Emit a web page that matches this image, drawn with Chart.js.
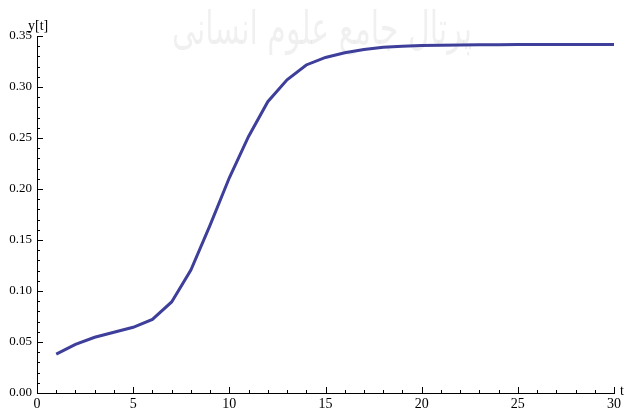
<!DOCTYPE html>
<html>
<head>
<meta charset="utf-8">
<script src="https://cdn.jsdelivr.net/npm/chart.js@4/dist/chart.umd.min.js"></script>
<style>
  html, body { margin: 0; padding: 0; background: #fff; }
  #wrap { width: 627px; height: 411px; position: relative; }
</style>
</head>
<body>
<div id="wrap"><canvas id="plot"></canvas></div>
<script>
// values
let tValues = [1,2,3,4,5,6,7,8,9,10,11,12,13,14,15,16,17,18,19,20,21,22,23,24,25,26,27,28,29,30];
let yValues = [0.0382,0.0477,0.0546,0.0595,0.0644,0.0722,0.0893,0.1206,0.1645,0.2110,0.2515,0.2856,0.3070,0.3216,0.3290,0.3336,0.3368,0.3389,0.3400,0.3406,0.3410,0.3412,0.3414,0.3415,0.3416,0.3416,0.3417,0.3417,0.3417,0.3417];
let xTicks = [0,5,10,15,20,25,30];
let yTicks = [0,0.05,0.10,0.15,0.20,0.25,0.30,0.35];

let serif = "'Liberation Serif', serif";
Chart.defaults.font.family = serif;
Chart.defaults.font.size = 13;
Chart.defaults.color = "#000";

// inward ticks like the original plot, plus axis names and watermark
let axisDecor = {
  id: "axisDecor",
  beforeDraw: function(chart){
    let c = chart.ctx;
    c.save();
    c.font = "46px DejaVu Sans";
    c.fillStyle = "rgba(0,0,0,0.06)";
    c.textAlign = "center";
    c.textBaseline = "middle";
    c.direction = "rtl";
    c.fillText("پرتال جامع علوم انسانی", 322, 32, 300);
    c.restore();
  },
  afterDraw: function(chart){
    let c = chart.ctx;
    let xs = chart.scales.x, ys = chart.scales.y;
    let x0 = xs.getPixelForValue(0), y0 = ys.getPixelForValue(0);
    c.save();
    c.strokeStyle = "#000";
    c.lineWidth = 1;
    c.beginPath();
    for(let i=0;i<=30;i++){
      let px = Math.round(xs.getPixelForValue(i)) + 0.5;
      let len = (i % 5 == 0) ? 6 : 3;
      c.moveTo(px, y0);
      c.lineTo(px, y0 - len);
    }
    for(let j=0;j<=35;j++){
      let py = Math.round(ys.getPixelForValue(j/100)) + 0.5;
      let len = (j % 5 == 0) ? 6 : 3;
      c.moveTo(x0, py);
      c.lineTo(x0 + len, py);
    }
    c.stroke();
    c.fillStyle = "#000";
    c.font = "14px " + serif;
    c.textBaseline = "alphabetic";
    c.textAlign = "left";
    c.fillText("y[t]", 28, 30);
    c.fillText("t", 620, 395);
    c.restore();
  }
};

let ctx = document.getElementById("plot");
let chart = new Chart(ctx, {
  type: "line",
  data: {
    labels: tValues,
    datasets: [{
      data: tValues.map((t, i) => ({x: t, y: yValues[i]})),
      borderColor: "rgb(62,62,155)",
      borderWidth: 3,
      fill: false,
      tension: 0,
      pointRadius: 0
    }]
  },
  options: {
    responsive: true,
    maintainAspectRatio: false,
    animation: false,
    layout: { padding: { top: 36, right: 13, left: 0, bottom: 0 } },
    plugins: { legend: { display: false }, tooltip: { enabled: false } },
    scales: {
      x: {
        type: "linear",
        min: 0, max: 30,
        afterBuildTicks: function(s){ s.ticks = xTicks.map(v => ({value: v})); },
        afterFit: function(s){ s.height = 18; },
        grid: { display: false, drawTicks: false },
        border: { display: true, color: "#000", width: 1 },
        ticks: { color: "#000", padding: 3, maxRotation: 0, font: { family: serif, size: 14 } }
      },
      y: {
        type: "linear",
        min: 0, max: 0.35,
        afterBuildTicks: function(s){ s.ticks = yTicks.map(v => ({value: v})); },
        afterFit: function(s){ s.width = 37; },
        grid: { display: false, drawTicks: false },
        border: { display: true, color: "#000", width: 1 },
        ticks: {
          color: "#000", padding: 5,
          font: { family: serif, size: 13 },
          callback: function(v){ return Number(v).toFixed(2); }
        }
      }
    }
  },
  plugins: [axisDecor]
});
</script>
</body>
</html>
